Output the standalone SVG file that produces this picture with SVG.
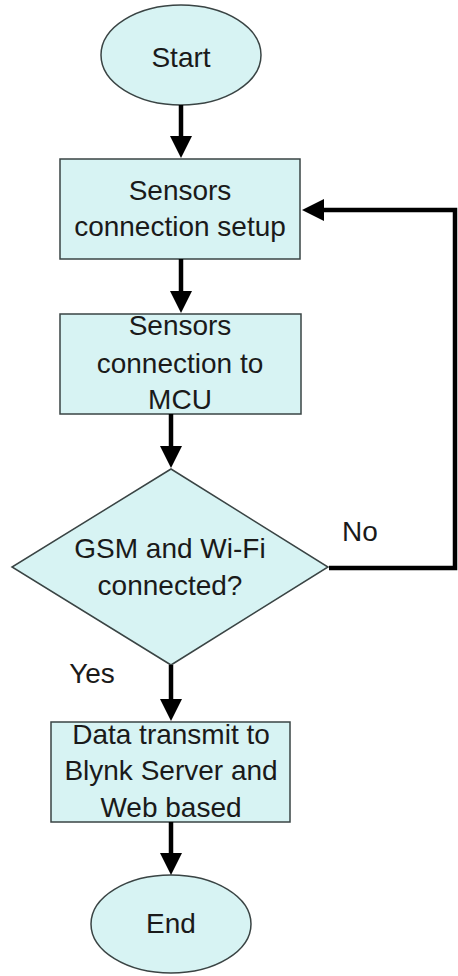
<svg xmlns="http://www.w3.org/2000/svg" width="458" height="976" viewBox="0 0 458 976">
<style>
.shape{fill:#d7f3f3;stroke:#3a4444;stroke-width:1.5}
.lbl{font-family:"Liberation Sans",Arial,sans-serif;font-size:28px;fill:#1a1a1a;text-anchor:middle}
.conn{fill:none;stroke:#000;stroke-width:4.5}
</style>
<defs>
<marker id="ah" viewBox="0 0 22 22" markerWidth="22" markerHeight="22" markerUnits="userSpaceOnUse" refX="1" refY="11" orient="auto">
<path d="M0,0 L22,11 L0,22 z" fill="#000"/>
</marker>
</defs>
<rect width="458" height="976" fill="#fff"/>
<g id="start">
<ellipse class="shape" cx="181" cy="55" rx="80" ry="50"/>
<text class="lbl" x="181" y="67">Start</text>
</g>
<g id="setup">
<rect class="shape" x="60" y="159" width="240" height="100"/>
<text class="lbl" x="180" y="200">Sensors</text>
<text class="lbl" x="180" y="236">connection setup</text>
</g>
<g id="mcu">
<rect class="shape" x="60" y="314" width="241" height="100"/>
<text class="lbl" x="180" y="335">Sensors</text>
<text class="lbl" x="180" y="373">connection to</text>
<text class="lbl" x="180" y="409">MCU</text>
</g>
<g id="decision">
<polygon class="shape" points="171,469 328,567 171,665 12,567"/>
<text class="lbl" x="170" y="558">GSM and Wi-Fi</text>
<text class="lbl" x="170" y="595">connected?</text>
</g>
<g id="transmit">
<rect class="shape" x="51" y="722" width="239" height="100"/>
<text class="lbl" x="171" y="744">Data transmit to</text>
<text class="lbl" x="171" y="780">Blynk Server and</text>
<text class="lbl" x="171" y="817">Web based</text>
</g>
<g id="end">
<ellipse class="shape" cx="171" cy="924" rx="80" ry="49"/>
<text class="lbl" x="171" y="933">End</text>
</g>
<g id="connectors">
<line class="conn" x1="181" y1="105" x2="181" y2="137" marker-end="url(#ah)"/>
<line class="conn" x1="181" y1="259" x2="181" y2="292" marker-end="url(#ah)"/>
<line class="conn" x1="171" y1="414" x2="171" y2="447" marker-end="url(#ah)"/>
<line class="conn" x1="171" y1="665" x2="171" y2="700" marker-end="url(#ah)"/>
<line class="conn" x1="171" y1="822" x2="171" y2="854" marker-end="url(#ah)"/>
<polyline class="conn" points="329,568 455,568 455,210 323,210" marker-end="url(#ah)"/>
<text class="lbl" x="360" y="541">No</text>
<text class="lbl" x="92" y="683">Yes</text>
</g>
</svg>
